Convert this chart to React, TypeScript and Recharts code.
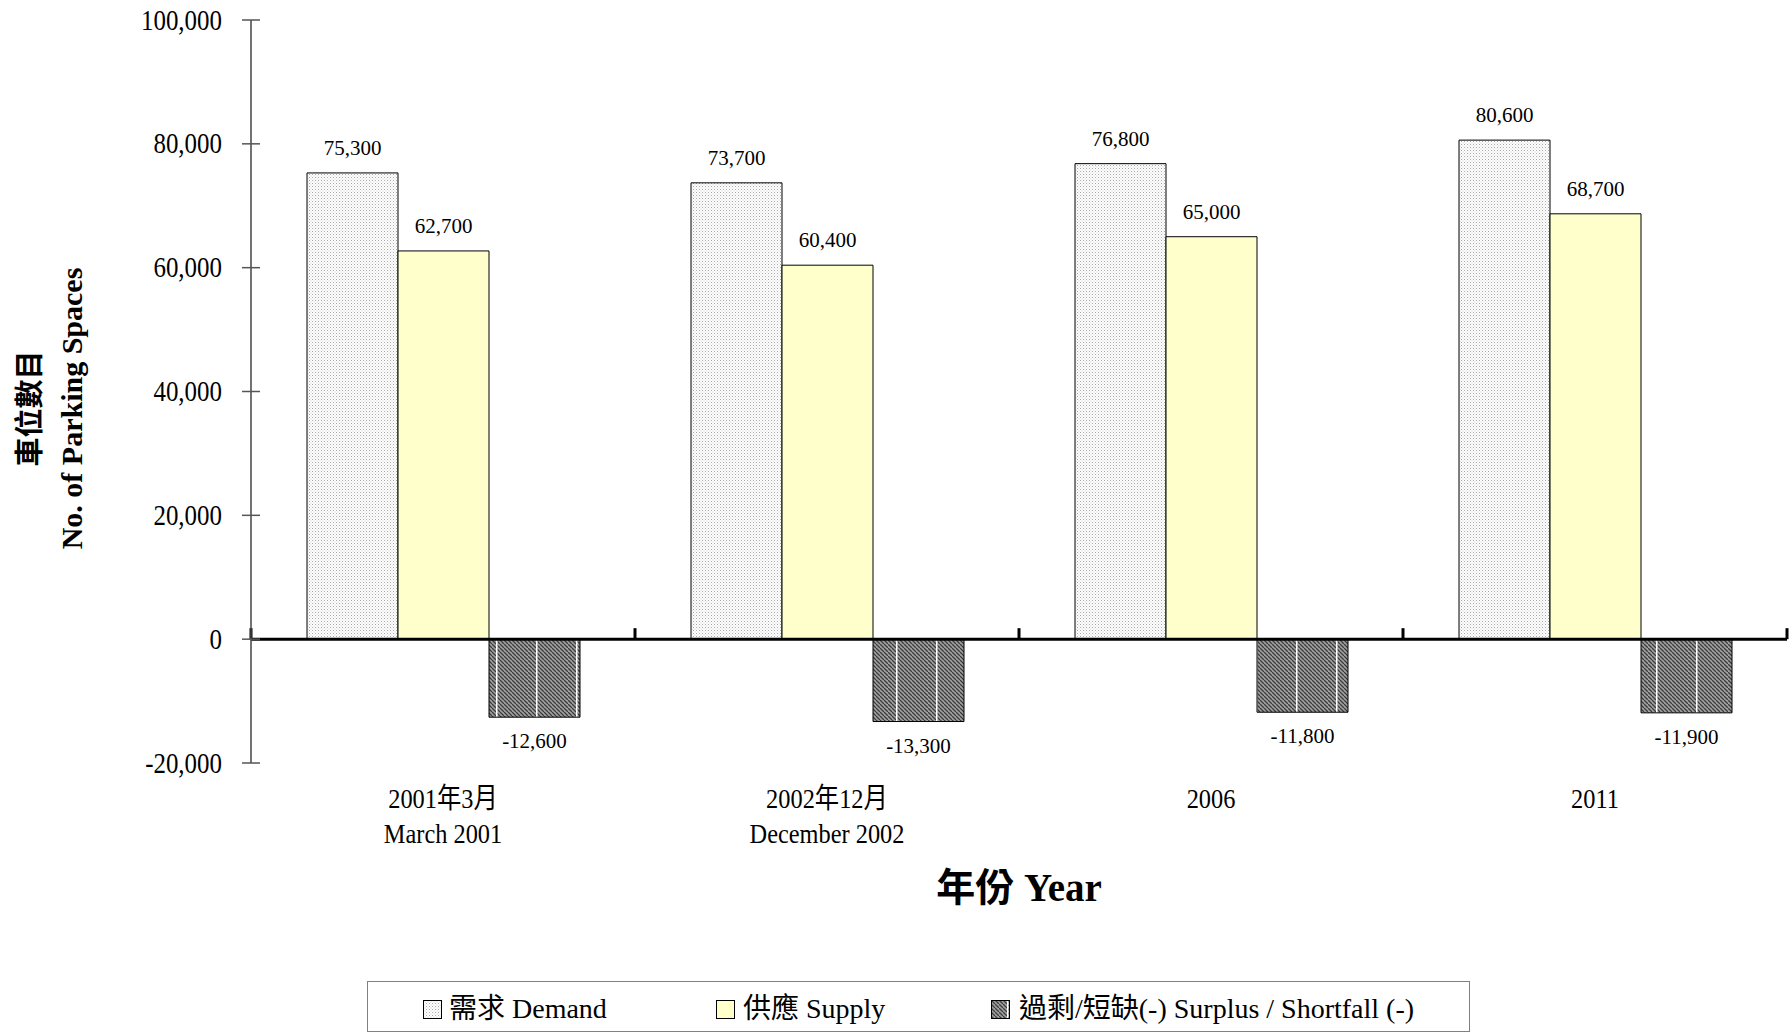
import { BarChart, Bar, XAxis, YAxis, LabelList, ReferenceLine, Label } from 'recharts'

const periodZh = ['2001年3月', '2002年12月', '2006', '2011']
const periodEn = ['March 2001', 'December 2002', '', '']
const demand = [75300, 73700, 76800, 80600]
const supply = [62700, 60400, 65000, 68700]
const balance = [-12600, -13300, -11800, -11900]
const yTicks = [-20000, 0, 20000, 40000, 60000, 80000, 100000]
const seriesNames = ['需求 Demand', '供應 Supply', '過剩/短缺(-) Surplus / Shortfall (-)']

const rows = periodZh.map((p, i) => ({ period: p, demand: demand[i], supply: supply[i], balance: balance[i] }))

const FONT = "'Liberation Serif', 'Noto Sans CJK TC', serif"
const fmt = (v: number) => v.toLocaleString('en-US')

function YTick(props: any) {
  const { x, y, payload } = props
  return (
    <g>
      <line x1={x - 9} x2={x + 9} y1={y} y2={y} stroke="#555" strokeWidth={1.5} />
      <text transform={`translate(${x - 29},${y}) scale(0.86,1)`} textAnchor="end" dominantBaseline="central"
        fontSize={29} fontFamily={FONT} fill="#000">{fmt(payload.value)}</text>
    </g>
  )
}

function XTick(props: any) {
  const { x, y, payload } = props
  const i = payload.index
  return (
    <g fontFamily={FONT} fontSize={28} fill="#000">
      <text transform={`translate(${x},${y + 36}) scale(0.87,1)`} textAnchor="middle" dominantBaseline="central">{periodZh[i]}</text>
      {periodEn[i] && (
        <text transform={`translate(${x},${y + 71}) scale(0.87,1)`} textAnchor="middle" dominantBaseline="central">{periodEn[i]}</text>
      )}
    </g>
  )
}

function ValueLabel(props: any) {
  const { x, y, width, height, value } = props
  const top = Math.min(y, y + height)
  const bottom = Math.max(y, y + height)
  const ty = value < 0 ? bottom + 31 : top - 18
  return (
    <text x={x + width / 2} y={ty} textAnchor="middle" fontSize={21} fontFamily={FONT} fill="#000">{fmt(value)}</text>
  )
}

// zero line with the category boundary ticks pointing up
function ZeroLine(props: any) {
  const { x1, x2, y1 } = props
  const step = (x2 - x1) / periodZh.length
  const marks = Array.from({ length: periodZh.length + 1 }, (_, i) => x1 + i * step)
  return (
    <g>
      <line x1={x1} x2={x2} y1={y1} y2={y1} stroke="#000" strokeWidth={3} />
      {marks.map(mx => <line key={mx} x1={mx} x2={mx} y1={y1} y2={y1 - 11} stroke="#000" strokeWidth={3} />)}
    </g>
  )
}

const fills = ['url(#dots)', '#FFFFCC', 'url(#hatch)']
const legendPos = [{ icon: 55, text: 81 }, { icon: 348, text: 375 }, { icon: 623, text: 651 }]

export default function App() {
  return (
    <div style={{ position: 'absolute', left: 0, top: 0, width: 1789, height: 1032, background: '#fff' }}>
      <BarChart width={1789} height={1032} data={rows} barSize={91} barGap={0}
        margin={{ top: 20, right: 2, left: 0, bottom: 0 }}>
        <defs>
          <pattern id="dots" width={3} height={3} patternUnits="userSpaceOnUse">
            <rect width={3} height={3} fill="#fff" />
            <rect x={0} y={0} width={1} height={1} fill="#a8a8a8" />
            <rect x={1.5} y={1.5} width={1} height={1} fill="#c8c8c8" />
          </pattern>
          <pattern id="hatch" x={488} width={40} height={4} patternUnits="userSpaceOnUse">
            <rect width={40} height={4} fill="#a0a0a0" />
            {Array.from({ length: 10 }, (_, i) => (
              <line key={i} x1={i * 4} y1={0} x2={i * 4 + 4} y2={4} stroke="#3c3c3c" strokeWidth={1.3} />
            ))}
            <rect x={8} y={0} width={1.5} height={4} fill="#fff" />
          </pattern>
        </defs>
        <XAxis dataKey="period" height={269} axisLine={false} tickLine={false} tickSize={0} tickMargin={0}
          interval={0} tick={<XTick />}>
          <Label content={(p: any) => {
            const vb = p.viewBox
            return (
              <text x={vb.x + vb.width / 2} y={887} textAnchor="middle" dominantBaseline="central"
                fontSize={39} fontWeight="bold" fontFamily={FONT} fill="#000">年份 Year</text>
            )
          }} />
        </XAxis>
        <YAxis width={251} domain={[-20000, 100000]} ticks={yTicks} interval={0} tickLine={false}
          tickSize={0} tickMargin={0} axisLine={{ stroke: '#444', strokeWidth: 1.5 }} tick={<YTick />}>
          <Label content={(p: any) => {
            const vb = p.viewBox
            const cy = vb.y + vb.height / 2 + 17
            return (
              <g fontFamily={FONT} fontWeight="bold" fill="#000">
                <text transform={`translate(30,${cy}) rotate(-90)`} textAnchor="middle" dominantBaseline="central" fontSize={29}>車位數目</text>
                <text transform={`translate(71,${cy}) rotate(-90)`} textAnchor="middle" dominantBaseline="central" fontSize={30}>No. of Parking Spaces</text>
              </g>
            )
          }} />
        </YAxis>
        <Bar dataKey="demand" name={seriesNames[0]} fill={fills[0]} stroke="#000" strokeWidth={1} isAnimationActive={false}>
          <LabelList dataKey="demand" content={ValueLabel} />
        </Bar>
        <Bar dataKey="supply" name={seriesNames[1]} fill={fills[1]} stroke="#000" strokeWidth={1} isAnimationActive={false}>
          <LabelList dataKey="supply" content={ValueLabel} />
        </Bar>
        <Bar dataKey="balance" name={seriesNames[2]} fill={fills[2]} stroke="#000" strokeWidth={1} isAnimationActive={false}>
          <LabelList dataKey="balance" content={ValueLabel} />
        </Bar>
        <ReferenceLine y={0} shape={ZeroLine} />
      </BarChart>
      <div style={{ position: 'absolute', left: 367, top: 981, width: 1103, height: 51, border: '1.5px solid #808080',
        boxSizing: 'border-box', fontFamily: FONT, fontSize: 28, color: '#000' }}>
        {seriesNames.map((name, i) => (
          <div key={name}>
            <svg style={{ position: 'absolute', left: legendPos[i].icon, top: 18 }} width={19} height={19}>
              <rect x={0.5} y={0.5} width={18} height={18} fill={fills[i]} stroke="#000" />
            </svg>
            <span style={{ position: 'absolute', left: legendPos[i].text, top: 10, lineHeight: '34px', whiteSpace: 'nowrap' }}>{name}</span>
          </div>
        ))}
      </div>
    </div>
  )
}
